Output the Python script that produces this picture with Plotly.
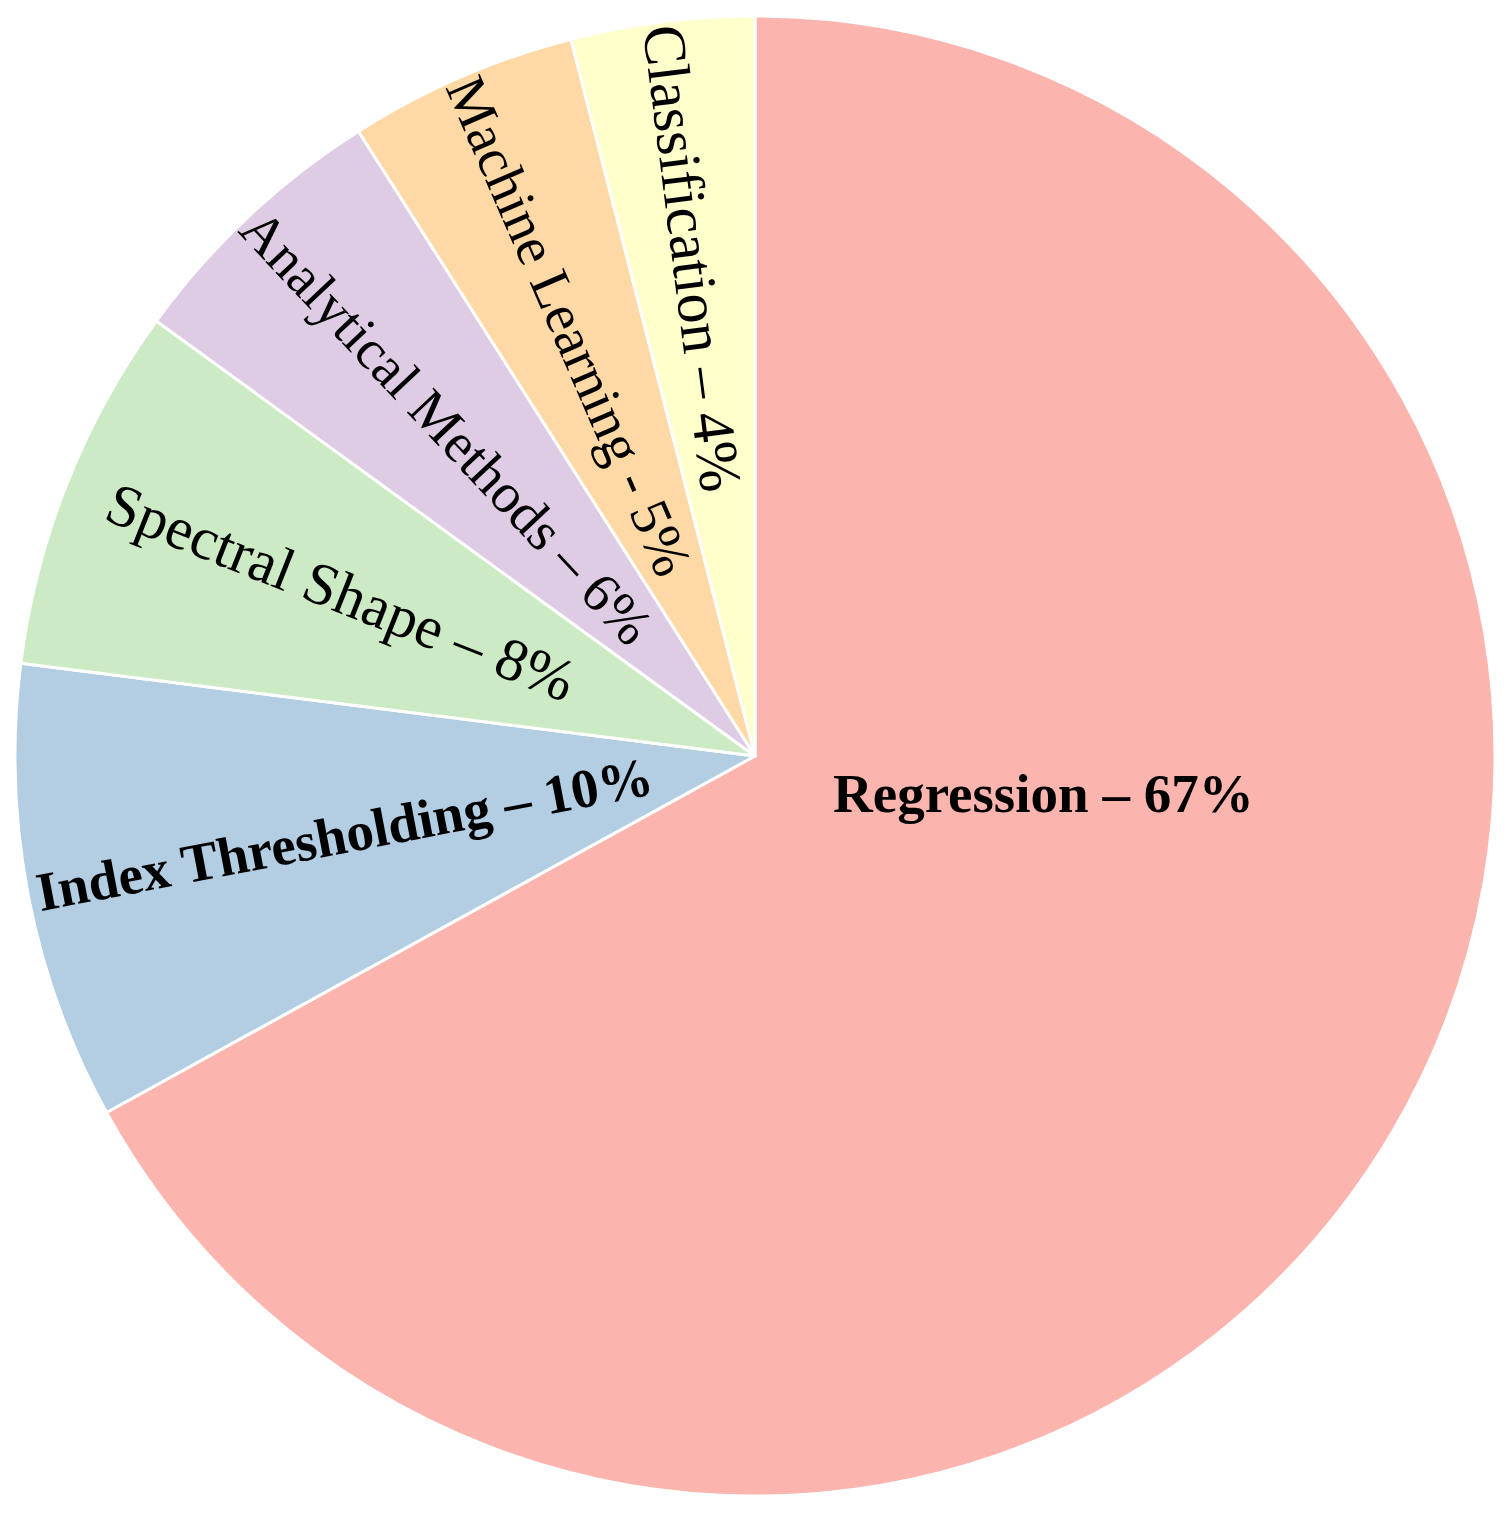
import plotly.graph_objects as go

# share of methods, clockwise from 12 o'clock
labels = ["Regression", "Index Thresholding", "Spectral Shape",
          "Analytical Methods", "Machine Learning", "Classification"]
values = [67, 10, 8, 6, 5, 4]
dashes = ["–", "–", "–", "–", "-", "–"]
bold = [True, True, False, False, False, False]
colors = ["#fbb4ae", "#b3cde3", "#ccebc5", "#decbe4", "#fed9a6", "#ffffcc"]

FONT = "Liberation Serif, Times New Roman, serif"

text = []
for lab, val, d, b in zip(labels, values, dashes, bold):
    s = f"{lab} {d} {val}%"
    text.append(f"<b>{s}</b>" if b else s)

# the big slice gets its label as an annotation near the centre
main_label = text[0]
text[0] = ""
sizes = [55 if b else 60 for b in bold]

fig = go.Figure(go.Pie(
    labels=labels,
    values=values,
    text=text,
    textinfo="text",
    textposition="inside",
    insidetextorientation="auto",
    insidetextfont=dict(family=FONT, size=sizes, color="black"),
    marker=dict(colors=colors, line=dict(color="white", width=3)),
    sort=False,
    direction="clockwise",
    rotation=0,
    hoverinfo="label+percent",
))

fig.add_annotation(
    text=main_label, x=0.695, y=0.475, xref="paper", yref="paper",
    xanchor="center", yanchor="middle",
    showarrow=False, font=dict(family=FONT, size=55, color="black"),
)

fig.update_layout(
    width=1512,
    height=1514,
    margin=dict(l=7, r=25, t=7, b=25),
    showlegend=False,
    paper_bgcolor="white",
)

fig.write_html("out.html")
